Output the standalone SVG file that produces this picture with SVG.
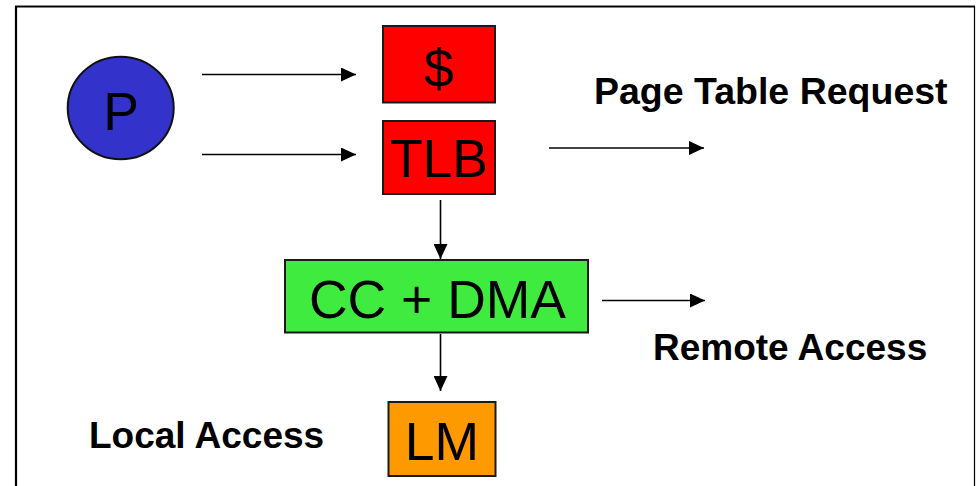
<svg xmlns="http://www.w3.org/2000/svg" width="976" height="486" viewBox="0 0 976 486">
  <defs>
    <marker id="arrow" viewBox="0 0 15 14" refX="15" refY="7" markerWidth="15" markerHeight="14" markerUnits="userSpaceOnUse" orient="auto">
      <path d="M0,0 L15,7 L0,14 Z" fill="#000"/>
    </marker>
    <style>
      .box { stroke: #1a1a1a; stroke-width: 2; }
      .node-text { font-family: "Liberation Sans", Arial, sans-serif; font-size: 53.5px; fill: #000; text-anchor: middle; }
      .label { font-family: "Liberation Sans", Arial, sans-serif; font-size: 37px; font-weight: bold; fill: #000; }
      .conn { stroke: #000; stroke-width: 1.6; fill: none; marker-end: url(#arrow); }
    </style>
  </defs>

  <rect width="976" height="486" fill="#fff"/>

  <!-- open frame: top, left and right edges -->
  <g id="frame" fill="none">
    <line x1="15" y1="5.5" x2="975" y2="5.5" stroke="#888" stroke-width="1"/>
    <line x1="15" y1="6.8" x2="975" y2="6.8" stroke="#000" stroke-width="1.6"/>
    <line x1="16" y1="6" x2="16" y2="486" stroke="#000" stroke-width="2.2"/>
    <line x1="974.5" y1="6" x2="974.5" y2="486" stroke="#000" stroke-width="1.2"/>
  </g>

  <g id="connectors">
    <line class="conn" x1="202" y1="74.5" x2="356" y2="74.5"/>
    <line class="conn" x1="202" y1="154.5" x2="356" y2="154.5"/>
    <line class="conn" x1="549" y1="148" x2="704" y2="148"/>
    <line class="conn" x1="440.5" y1="200" x2="440.5" y2="259"/>
    <line class="conn" x1="602" y1="300.5" x2="705" y2="300.5"/>
    <line class="conn" x1="440.5" y1="334" x2="440.5" y2="391"/>
  </g>

  <g id="node-p">
    <ellipse cx="120.7" cy="108" rx="53" ry="51.3" fill="#3333CC" stroke="#111" stroke-width="2"/>
    <text class="node-text" x="121" y="130">P</text>
  </g>

  <g id="node-cache">
    <rect class="box" x="383" y="26" width="112" height="76.5" fill="#FF0000"/>
    <text class="node-text" x="439" y="87">$</text>
  </g>

  <g id="node-tlb">
    <rect class="box" x="383" y="121" width="112" height="73" fill="#FF0000"/>
    <text class="node-text" x="439" y="177">TLB</text>
  </g>

  <g id="node-ccdma">
    <rect class="box" x="285" y="260" width="303" height="72.5" fill="#40EB40"/>
    <text class="node-text" x="437.5" y="318">CC + DMA</text>
  </g>

  <g id="node-lm">
    <rect class="box" x="388.5" y="402" width="107" height="74" fill="#FF9900"/>
    <text class="node-text" x="442" y="460">LM</text>
  </g>

  <g id="labels">
    <text class="label" x="594" y="104" style="font-size:37.5px">Page Table Request</text>
    <text class="label" x="653" y="360">Remote Access</text>
    <text class="label" x="89" y="448">Local Access</text>
  </g>
</svg>
